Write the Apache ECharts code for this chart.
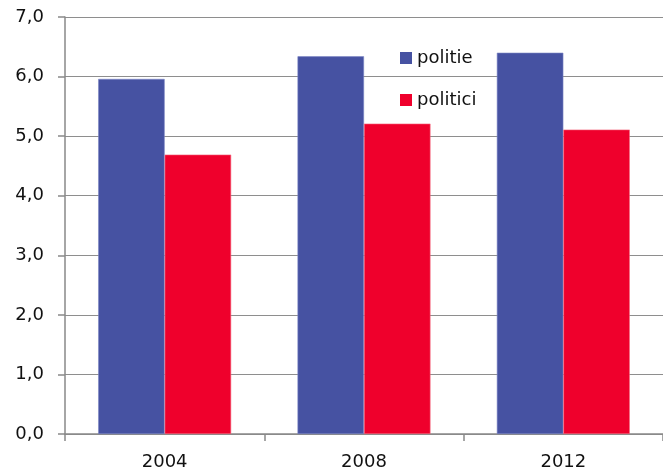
<!DOCTYPE html>
<html>
<head>
<meta charset="utf-8">
<script src="https://cdn.jsdelivr.net/npm/echarts@6/dist/echarts.min.js"></script>
<style>html,body{margin:0;padding:0;background:#fff}#c{width:663px;height:473px}</style>
</head>
<body>
<div id="c"></div>
<script>
var categories = ['2004', '2008', '2012'];
var politie = [5.96, 6.34, 6.40];
var politici = [4.69, 5.21, 5.11];
var seriesNames = ['politie', 'politici'];

var chart = echarts.init(document.getElementById('c'));
var font = 'DejaVu Sans, sans-serif';
chart.setOption({
  animation: false,
  grid: {left: 65, right: -7, top: 17, bottom: 39, containLabel: false},
  legend: {
    orient: 'vertical', left: 400, top: 49, padding: 0,
    icon: 'rect', itemWidth: 12, itemHeight: 12, itemGap: 24,
    itemStyle: {borderWidth: 0},
    textStyle: {fontFamily: font, fontSize: 18, lineHeight: 18, color: '#111'},
    data: seriesNames
  },
  xAxis: {
    type: 'category', data: categories,
    axisLine: {lineStyle: {color: '#898989', width: 1.5}},
    axisTick: {show: true, length: 7, lineStyle: {color: '#898989', width: 1.5}},
    axisLabel: {fontFamily: font, fontSize: 18, color: '#111', margin: 19}
  },
  yAxis: {
    type: 'value', min: 0, max: 7, interval: 1,
    axisLine: {show: true, lineStyle: {color: '#898989', width: 1.5}},
    axisTick: {show: true, length: 7, lineStyle: {color: '#898989', width: 1.5}},
    splitLine: {lineStyle: {color: '#8e8e8e', width: 1.2}},
    axisLabel: {fontFamily: font, fontSize: 18, color: '#111', margin: 21,
      formatter: function (v) { return v.toFixed(1).replace('.', ','); }}
  },
  series: [
    {name: seriesNames[0], type: 'bar', data: politie, barGap: '0%', barCategoryGap: '33.3%',
      itemStyle: {color: '#4652A2', borderColor: '#7a84c4', borderWidth: 0.6}},
    {name: seriesNames[1], type: 'bar', data: politici, barGap: '0%', barCategoryGap: '33.3%',
      itemStyle: {color: '#EF002C', borderColor: '#f56a80', borderWidth: 0.6}}
  ]
});
</script>
</body>
</html>
